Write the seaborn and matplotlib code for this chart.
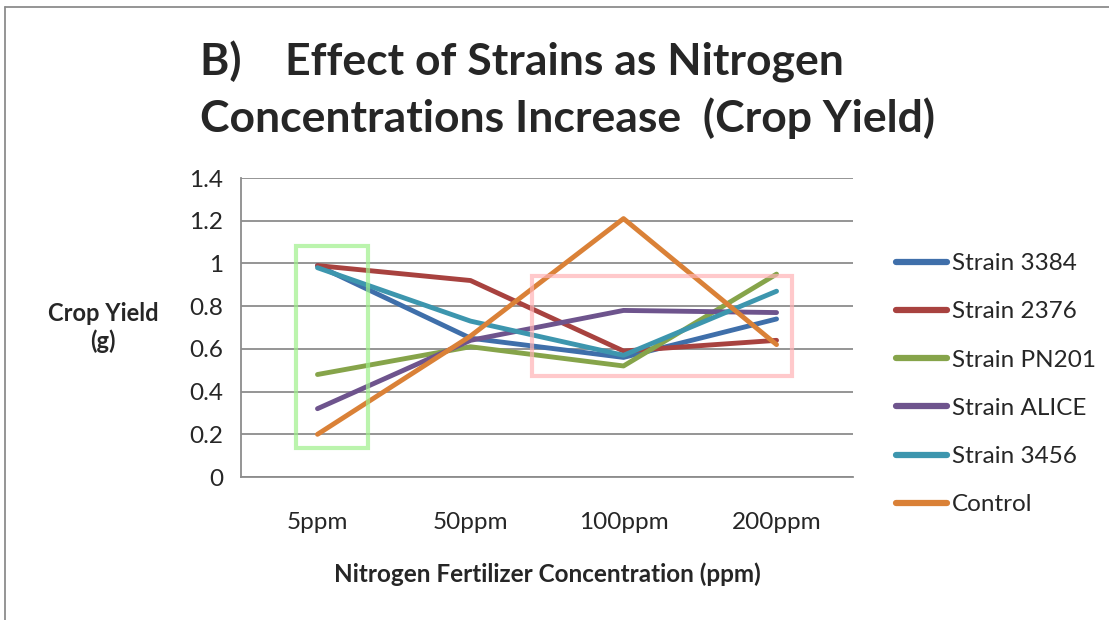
import numpy as np
import pandas as pd
import matplotlib
matplotlib.use("Agg")
import matplotlib.pyplot as plt
from matplotlib.patches import Rectangle
from matplotlib.lines import Line2D
import seaborn as sns

concentrations = ["5ppm", "50ppm", "100ppm", "200ppm"]
strain_names = ["Strain 3384", "Strain 2376", "Strain PN201", "Strain ALICE", "Strain 3456", "Control"]
strain_3384 = [0.99, 0.65, 0.56, 0.74]
strain_2376 = [0.99, 0.92, 0.59, 0.64]
strain_pn201 = [0.48, 0.61, 0.52, 0.95]
strain_alice = [0.32, 0.64, 0.78, 0.77]
strain_3456 = [0.98, 0.73, 0.57, 0.87]
control = [0.20, 0.66, 1.21, 0.62]
y_ticks = [0, 0.2, 0.4, 0.6, 0.8, 1, 1.2, 1.4]

colors = ["#3F6FAA", "#A8423F", "#86A44A", "#6E548D", "#3D96AE", "#DA8137"]

series = [strain_3384, strain_2376, strain_pn201, strain_alice, strain_3456, control]
rows = []
for name, vals in zip(strain_names, series):
    for c, v in zip(concentrations, vals):
        rows.append({"Concentration": c, "Yield": v, "Strain": name})
df = pd.DataFrame(rows)

sns.set_style("white")
plt.rcParams['font.family'] = ['Lato', 'DejaVu Sans']

fig = plt.figure(figsize=(11.09, 6.2), dpi=100)
ax = fig.add_axes([0.2173, 0.2306, 0.5519, 0.4823])

sns.lineplot(data=df, x="Concentration", y="Yield", hue="Strain", hue_order=strain_names,
             palette=colors, linewidth=3.5, sort=False, ax=ax)

# highlight boxes
ax.add_patch(Rectangle((-0.14, 0.135), 0.47, 0.945, fill=False, edgecolor="#9EF08A",
                       linewidth=3, alpha=0.7, zorder=5))
ax.add_patch(Rectangle((1.405, 0.475), 1.695, 0.465, fill=False, edgecolor="#FFB3B6",
                       linewidth=3, alpha=0.7, zorder=5))

ax.set_xlim(-0.5, 3.5)
ax.set_ylim(0, 1.4)
ax.set_yticks(y_ticks)
ax.set_yticklabels(["0", "0.2", "0.4", "0.6", "0.8", "1", "1.2", "1.4"])
ax.yaxis.grid(True, color="#8C8C8C", linewidth=1.3)
ax.set_axisbelow(True)

ax.set_xticks(range(len(concentrations)))
ax.set_xticklabels(concentrations)
ax.set_xticks(np.arange(-0.5, 4, 1), minor=True)
ax.tick_params(axis="x", which="major", length=0, pad=25, labelsize=17.5)
ax.tick_params(axis="x", which="minor", length=7, width=1.3, color="#8C8C8C", direction="out")
ax.tick_params(axis="y", length=6, width=1.3, color="#8C8C8C", direction="out", labelsize=17.5, pad=7)

for side in ["top", "right"]:
    ax.spines[side].set_visible(False)
for side in ["left", "bottom"]:
    ax.spines[side].set_color("#8C8C8C")
    ax.spines[side].set_linewidth(1.3)

ax.set_xlabel("Nitrogen Fertilizer Concentration (ppm)", fontsize=17.5, fontweight="bold", labelpad=21)
ax.set_ylabel("Crop Yield\n(g)", fontsize=17, fontweight="bold", rotation=0, labelpad=0)
ax.yaxis.set_label_coords(-0.225, 0.5)
ax.yaxis.label.set_verticalalignment("center")

leg = ax.legend(loc="center left", bbox_to_anchor=(1.035, 0.31), frameon=False, fontsize=17.5,
                handlelength=2.1, handletextpad=0.2, labelspacing=1.12)
for line in leg.get_lines():
    line.set_linewidth(4.5)

fig.text(0.18, 0.855, "B)    Effect of Strains as Nitrogen\nConcentrations Increase  (Crop Yield)",
         fontsize=32, fontweight="bold", ha="left", va="center", linespacing=1.4)

# outer frame
fig.add_artist(Line2D([5 / 1109, 5 / 1109], [0, 1 - 7 / 620], color="#8C8C8C", linewidth=1.3))
fig.add_artist(Line2D([5 / 1109, 1], [1 - 7 / 620, 1 - 7 / 620], color="#8C8C8C", linewidth=1.3))

fig.savefig("out.png", dpi=100)
